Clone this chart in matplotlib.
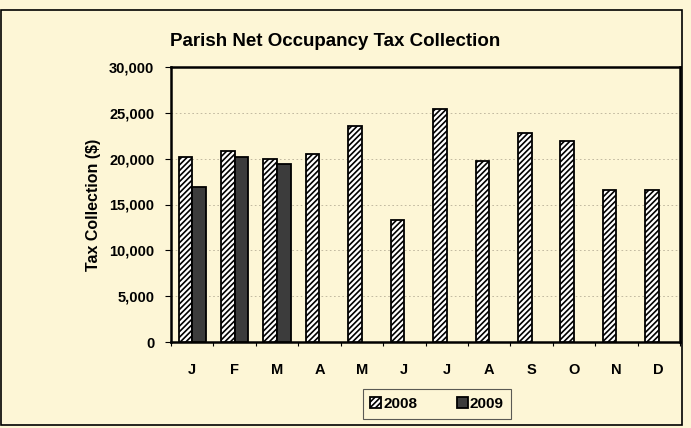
import matplotlib
matplotlib.use("Agg")
import matplotlib.pyplot as plt
import numpy as np
from matplotlib.patches import Rectangle

months = ["J", "F", "M", "A", "M", "J", "J", "A", "S", "O", "N", "D"]
tax_2008 = [20200, 20800, 19950, 20550, 23550, 13350, 25450, 19750, 22800, 21900, 16550, 16550]
tax_2009 = [16900, 20150, 19400]
yticks = [0, 5000, 10000, 15000, 20000, 25000, 30000]
ytick_labels = ["0", "5,000", "10,000", "15,000", "20,000", "25,000", "30,000"]

bg = "#fdf6d6"
plt.rcParams["font.family"] = ["Liberation Sans", "DejaVu Sans"]
plt.rcParams["hatch.linewidth"] = 1.2

fig = plt.figure(figsize=(6.91, 4.28), dpi=100, facecolor=bg)
ax = fig.add_axes([171/691, 1-342/428, (680-171)/691, (342-67)/428])
ax.set_facecolor(bg)

x = np.arange(len(months))
w = 0.32
ax.bar(x - w/2, tax_2008, width=w, facecolor="white", edgecolor="black",
       hatch="//////", linewidth=1.3, label="2008", zorder=3)
ax.bar(x[:len(tax_2009)] + w/2, tax_2009, width=w, facecolor="#3c3c3c",
       edgecolor="black", linewidth=1.3, label="2009", zorder=3)

ax.set_xlim(-0.5, len(months) - 0.5)
ax.set_ylim(0, 30000)
ax.set_yticks(yticks)
ax.set_yticklabels(ytick_labels, fontsize=10.5, fontweight="bold")
ax.set_xticks(x)
ax.set_xticklabels(months, fontsize=10.5, fontweight="bold")
ax.tick_params(axis="x", length=0, pad=15)
ax.set_xticks(np.arange(-0.5, len(months)), minor=True)
ax.tick_params(axis="x", which="minor", length=3, width=0.8, direction="out")
ax.tick_params(axis="y", length=4, width=0.8, direction="out", pad=8)

ax.yaxis.grid(True, linestyle=(0, (2, 3)), color="#b8b098", linewidth=0.6, zorder=0)
for s in ax.spines.values():
    s.set_linewidth(1.8)
    s.set_color("black")

ax.set_ylabel("Tax Collection ($)", fontsize=11.5, fontweight="bold", labelpad=6)
fig.text(335/691, 1-42/428, "Parish Net Occupancy Tax Collection", ha="center",
         va="center", fontsize=13.5, fontweight="bold")

leg = fig.legend(loc="center", bbox_to_anchor=(437/691, 1-404/428), ncol=2,
                 frameon=True, fancybox=False, edgecolor="#333333",
                 prop={"weight": "bold", "size": 11}, handlelength=0.7,
                 handleheight=0.7, handletextpad=0.15, columnspacing=2.6,
                 borderpad=0.5, borderaxespad=0)
leg.get_frame().set_facecolor(bg)
leg.get_frame().set_linewidth(0.8)

fig.patches.append(Rectangle((1/691, 1-425/428), 681/691, 415/428, transform=fig.transFigure,
                             fill=False, edgecolor="black", linewidth=1.2))

fig.savefig("out.png", dpi=100, facecolor=bg)
